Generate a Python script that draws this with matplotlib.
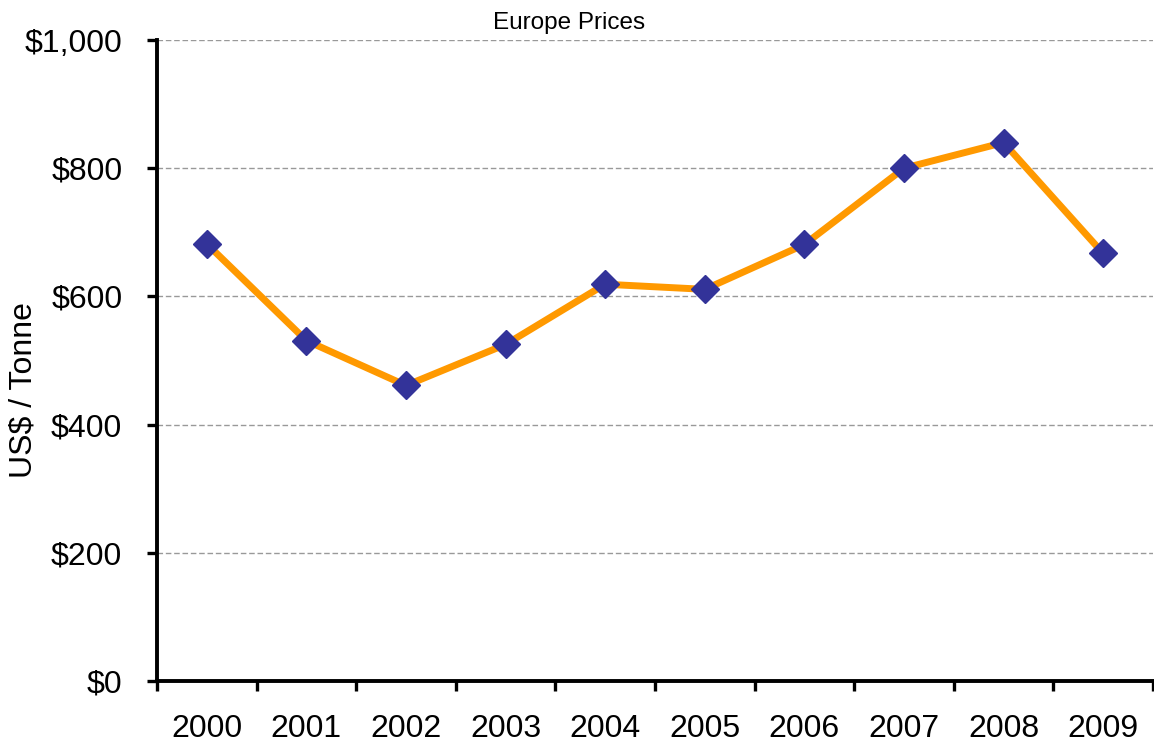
import matplotlib
matplotlib.use("Agg")
import matplotlib.pyplot as plt
import numpy as np

# Europe prices, US$ per tonne
years = ["2000", "2001", "2002", "2003", "2004", "2005", "2006", "2007", "2008", "2009"]
prices = [682, 531, 461, 525, 619, 611, 681, 800, 840, 667]
y_ticks = [0, 200, 400, 600, 800, 1000]
y_tick_labels = ["$0", "$200", "$400", "$600", "$800", "$1,000"]

plt.rcParams['font.family'] = ['Liberation Sans', 'DejaVu Sans']

fig = plt.figure(figsize=(11.54, 7.45), dpi=100)
ax = fig.add_axes([157 / 1154, 64 / 745, 996 / 1154, 641 / 745])

x = np.arange(len(years))
ax.plot(x, prices, color='#FF9900', linewidth=5.0, zorder=3)
ax.plot(x, prices, linestyle='none', marker='D', markersize=14,
        markerfacecolor='#333399', markeredgecolor='#333399', zorder=4)

ax.set_xlim(-0.5, len(years) - 0.5)
ax.set_ylim(0, 1000)

# category axis: ticks between categories, labels at centres
ax.set_xticks(np.arange(-0.5, len(years)), minor=False)
ax.set_xticklabels([])
ax.set_xticks(x, minor=True)
ax.set_xticklabels(years, minor=True, fontsize=23)
ax.tick_params(axis='x', which='major', direction='out', length=7.5, width=2.4)
ax.tick_params(axis='x', which='minor', length=0, pad=24)

ax.set_yticks(y_ticks)
ax.set_yticklabels(y_tick_labels, fontsize=23)
ax.tick_params(axis='y', direction='out', length=7, width=2.4, pad=18)

ax.grid(axis='y', color='#999999', linestyle=(0, (4, 2)), linewidth=1.0, zorder=1)
ax.set_axisbelow(True)

for side in ['top', 'right']:
    ax.spines[side].set_visible(False)
ax.spines['left'].set_linewidth(2.8)
ax.spines['bottom'].set_linewidth(2.8)

fig.text(569 / 1154, 1 - 29 / 745, "Europe Prices", fontsize=17.5,
         ha='center', va='baseline')
fig.text(24 / 1154, 1 - 390 / 745, "US$ / Tonne", fontsize=23,
         rotation=90, ha='center', va='center')

fig.savefig("out.png", dpi=100)
